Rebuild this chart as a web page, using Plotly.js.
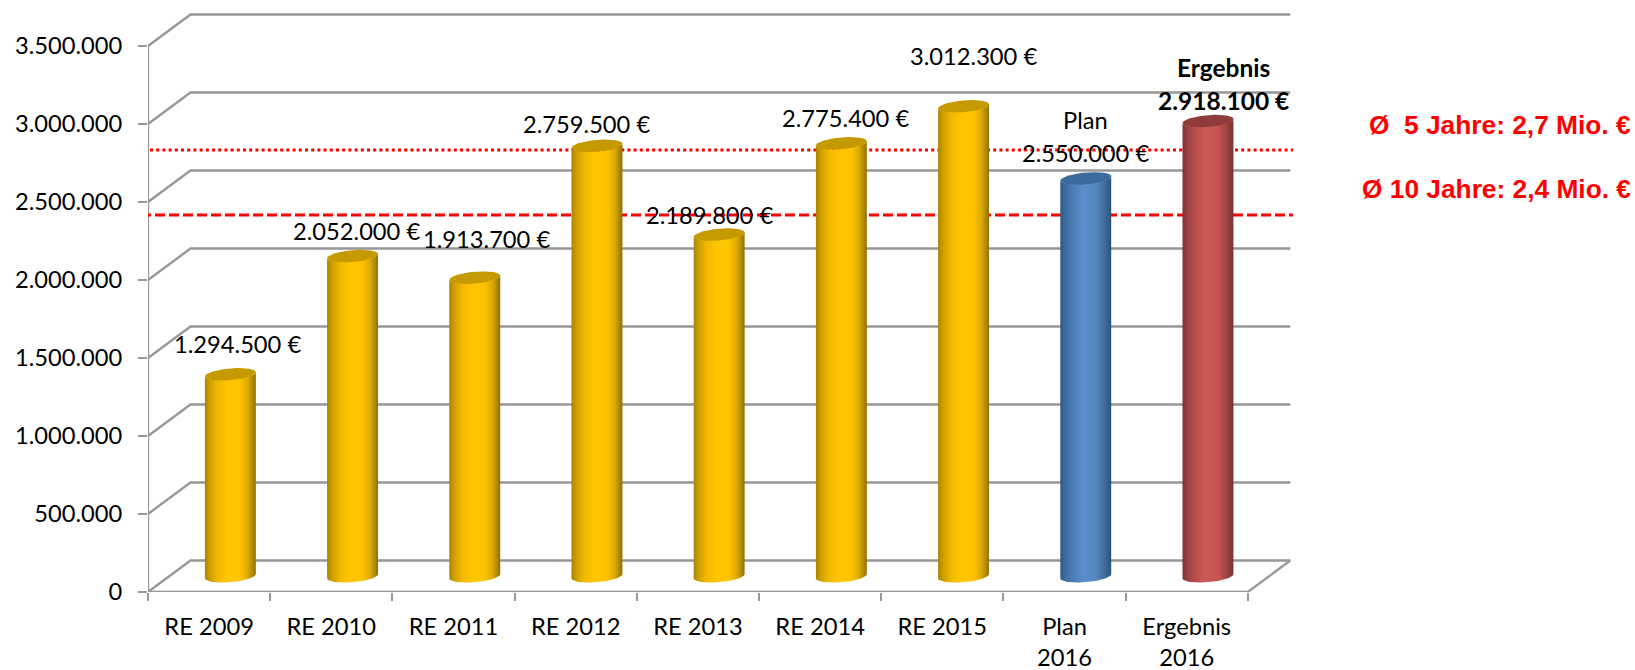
<!DOCTYPE html>
<html>
<head>
<meta charset="utf-8">
<script src="https://cdn.plot.ly/plotly-3.0.1.min.js"></script>
<style>html,body{margin:0;padding:0;background:#fff}#c{width:1635px;height:670px}</style>
</head>
<body>
<div id="c"></div>
<script>
// ---- data ----
const categories = ["RE 2009","RE 2010","RE 2011","RE 2012","RE 2013","RE 2014","RE 2015","Plan<br>2016","Ergebnis<br>2016"];
const values = [1294500,2052000,1913700,2759500,2189800,2775400,3012300,2550000,2918100];
const valueLabels = ["1.294.500 €","2.052.000 €","1.913.700 €","2.759.500 €","2.189.800 €","2.775.400 €","3.012.300 €","2.550.000 €","2.918.100 €"];
const labelHeads = ["","","","","","","","Plan","Ergebnis"];
const barKinds = ["gold","gold","gold","gold","gold","gold","gold","blue","red"];
const yTicks = [0,500000,1000000,1500000,2000000,2500000,3000000,3500000];
const avgNames = ["Ø\u00a0 5 Jahre: 2,7 Mio. €","Ø 10 Jahre: 2,4 Mio. €"];
const avgLevels = [2833000,2417000];

// ---- styles and layout ----
const FONT = "Lato, Calibri, sans-serif";
const SIZE = 23.7;
const GRID = "#979797";
const W = 1635, H = 670, L = 148, R = 342, T = 13, B = 78;
const PXX = 122.2;            // px per category
const PXY = 78 / 500000;      // px per value unit
const xMax = (W - L - R) / PXX, yMax = (H - T - B) / PXY;
const px = p => p / PXX, py = p => p / PXY;
const depthX = px(42.5), depthY = py(31.5);
const rA = px(24), rBx = px(8.5), rBy = py(6.3);
const palette = {
  gold: {cap:"#c59a00", stops:[[0,"#a88400"],[.1,"#cf9f00"],[.25,"#f0b800"],[.45,"#ffc600"],[.7,"#fcc300"],[.85,"#dba800"],[.95,"#a88400"],[1,"#8f7000"]]},
  blue: {cap:"#3c6a9c", stops:[[0,"#2f5880"],[.1,"#3f6e9f"],[.25,"#4c7db6"],[.45,"#5a8dcb"],[.7,"#5587c4"],[.85,"#446f9f"],[.95,"#345d86"],[1,"#2c5074"]]},
  red:  {cap:"#8f3c3a", stops:[[0,"#7d3533"],[.1,"#9c4240"],[.25,"#b84d4a"],[.45,"#cb5a57"],[.7,"#c65552"],[.85,"#a54644"],[.95,"#853836"],[1,"#753130"]]}
};
// label placement relative to bar-top centre, px
const labelShift = [[7,30],[4,25],[12,39],[-10,22],[-10,20],[4,25],[10,50],[0,25],[16,21]];
const headGap = 33;

const traces = [];

// back wall, side wall and floor outlines
const gx = [], gy = [];
yTicks.forEach(v => { gx.push(0, depthX, 9 + depthX, null); gy.push(v, v + depthY, v + depthY, null); });
gx.push(0, 0, null, 0, 9, 9 + depthX); gy.push(0, 3500000, null, 0, 0, depthY);
traces.push({type:"scatter", mode:"lines", x:gx, y:gy, line:{color:GRID, width:2.3}, hoverinfo:"skip", showlegend:false});

// the real bars, covered by their cylinder shading
traces.push({type:"bar", x:values.map((_, i) => i + .5 + depthX / 2), y:values,
  base:values.map(() => depthY / 2), width:rA * 1.9,
  marker:{color:barKinds.map(k => palette[k].stops[3][1])}, showlegend:false, hoverinfo:"skip"});

// average lines run behind the cylinders
const lineStyles = [{dash:"3px,3.2px", width:3}, {dash:"10px,4px", width:3}];
avgLevels.forEach((v, i) => traces.push({type:"scatter", mode:"lines", cliponaxis:false,
  x:[px(57 - L), px(1630 - L)], y:[v, v], line:Object.assign({color:"#ff0000"}, lineStyles[i]),
  hoverinfo:"skip", showlegend:false}));

// cylinders
const thR = Math.atan2(rBx, rA);
const N = 40;
values.forEach((v, i) => {
  const cx = i + .5 + depthX / 2, base = depthY / 2;
  const pt = (th, val) => [cx + rA * Math.cos(th) + rBx * Math.sin(th), val + base + rBy * Math.sin(th)];
  const bodyX = [], bodyY = [], capX = [], capY = [];
  for (let k = 0; k <= N; k++) { const p = pt(thR - Math.PI * k / N, 0); bodyX.push(p[0]); bodyY.push(p[1]); }
  for (let k = 0; k <= N; k++) { const p = pt(thR - Math.PI + Math.PI * k / N, v); bodyX.push(p[0]); bodyY.push(p[1]); }
  for (let k = 0; k <= 2 * N; k++) { const p = pt(Math.PI * k / N, v); capX.push(p[0]); capY.push(p[1]); }
  const pal = palette[barKinds[i]];
  traces.push({type:"scatter", mode:"lines", x:bodyX, y:bodyY, fill:"toself", line:{width:0, color:"rgba(0,0,0,0)"},
    fillgradient:{type:"horizontal", colorscale:pal.stops}, hoverinfo:"skip", showlegend:false});
  traces.push({type:"scatter", mode:"lines", x:capX, y:capY, fill:"toself", fillcolor:pal.cap,
    line:{width:0, color:"rgba(0,0,0,0)"}, hoverinfo:"skip", showlegend:false});
});

// value labels
const annotations = [];
values.forEach((v, i) => {
  const bold = i === 8;
  const font = {family:FONT, size:bold ? 24.5 : SIZE, color:"#000", weight:bold ? 700 : 400};
  const base = {x:i + .5 + depthX / 2, y:v + depthY / 2, xref:"x", yref:"y", xanchor:"center", yanchor:"middle",
    showarrow:false, font:font, xshift:labelShift[i][0]};
  annotations.push(Object.assign({}, base, {text:valueLabels[i], yshift:labelShift[i][1]}));
  if (labelHeads[i]) annotations.push(Object.assign({}, base, {text:labelHeads[i], yshift:labelShift[i][1] + headGap}));
});
// average captions
const capY = [125, 189];
avgNames.forEach((t, i) => annotations.push({text:t, xref:"paper", yref:"paper",
  x:(1633 - L) / (W - L - R), y:(H - B - capY[i]) / (H - T - B), xanchor:"right", yanchor:"middle",
  showarrow:false, font:{family:"Liberation Sans, Arial, sans-serif", size:26.3, color:"#ff0000", weight:700}}));

const layout = {
  width:W, height:H, margin:{l:L, r:R, t:T, b:B, pad:0}, paper_bgcolor:"#fff", plot_bgcolor:"#fff",
  separators:",.", showlegend:false, barmode:"overlay",
  font:{family:FONT, size:SIZE, color:"#000"},
  xaxis:{range:[0, xMax], tickmode:"array", tickvals:categories.map((_, i) => i + .5), ticktext:categories,
    ticks:"", showgrid:false, zeroline:false, showline:false, ticklabelstandoff:18, automargin:false, tickangle:0,
    minor:{tickmode:"array", tickvals:categories.map((_, i) => i).concat(9), ticks:"outside", ticklen:8, tickwidth:2, tickcolor:GRID, showgrid:false}},
  yaxis:{range:[0, yMax], tickmode:"array", tickvals:yTicks, tickformat:",.0f", ticks:"outside", ticklen:9, tickwidth:2,
    tickcolor:GRID, showgrid:false, zeroline:false, showline:false, ticklabelstandoff:11, automargin:false},
  annotations:annotations
};
Plotly.newPlot("c", traces, layout, {displayModeBar:false, staticPlot:true});
</script>
</body>
</html>
